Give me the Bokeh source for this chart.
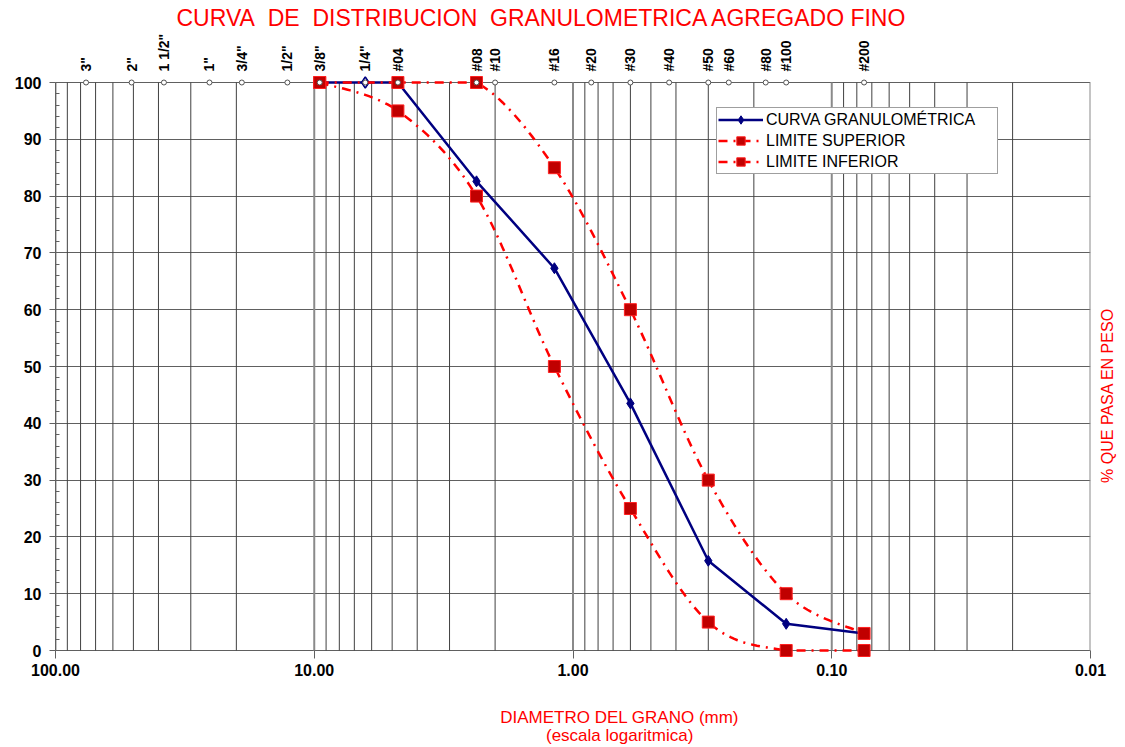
import numpy as np
from bokeh.plotting import figure
from bokeh.models import (Range1d, FixedTicker, Legend, LegendItem, LogAxis, Label,
                          NumeralTickFormatter)
from bokeh.embed import file_html
from bokeh.resources import INLINE

# ---------------- data ----------------
sieve_labels = ['3"', '2"', '1 1/2"', '1"', '3/4"', '1/2"', '3/8"', '1/4"', '#04', '#08', '#10',
                '#16', '#20', '#30', '#40', '#50', '#60', '#80', '#100', '#200']
sieve_mm = [76.2, 50.8, 38.1, 25.4, 19.05, 12.7, 9.525, 6.35, 4.75, 2.36, 2.0,
            1.18, 0.85, 0.6, 0.425, 0.3, 0.25, 0.18, 0.15, 0.075]

curva_x = [9.525, 6.35, 4.75, 2.36, 1.18, 0.6, 0.3, 0.15, 0.075]
curva_y = [100, 100, 100, 82.6, 67.3, 43.5, 15.8, 4.7, 3.0]

lim_x = [9.525, 4.75, 2.36, 1.18, 0.6, 0.3, 0.15, 0.075]
sup_y = [100, 100, 100, 85, 60, 30, 10, 3]
inf_y = [100, 95, 80, 50, 25, 5, 0, 0]

x_ticks = [100, 10, 1, 0.1, 0.01]
y_ticks = list(range(0, 101, 10))

title_text = "CURVA\u00a0 DE\u00a0 DISTRIBUCION\u00a0 GRANULOMETRICA AGREGADO FINO"
x_title_1 = "DIAMETRO DEL GRANO (mm)"
x_title_2 = "(escala logaritmica)"
y_title = "% QUE PASA EN PESO"

FONT = "Liberation Sans"
RED = "#FF0000"
NAVY = "#000080"


def smooth(xs, ys, n=24):
    """Excel-like smoothed line (Bezier / Catmull-Rom in log-x space), clipped to plot area."""
    P = np.column_stack([np.log10(xs), np.asarray(ys, float)])
    P = np.vstack([P[0], P, P[-1]])
    pts = []
    for i in range(1, len(P) - 2):
        p0, p1, p2, p3 = P[i - 1], P[i], P[i + 1], P[i + 2]
        b1 = p1 + (p2 - p0) / 6.0
        b2 = p2 - (p3 - p1) / 6.0
        for t in np.linspace(0, 1, n, endpoint=False):
            pts.append((1 - t) ** 3 * p1 + 3 * (1 - t) ** 2 * t * b1
                       + 3 * (1 - t) * t ** 2 * b2 + t ** 3 * p2)
    pts.append(P[-2])
    pts = np.array(pts)
    return 10 ** pts[:, 0], np.clip(pts[:, 1], 0, 100)


pad = 8 / 5.68
p = figure(frame_width=1035, frame_height=584,
           min_border_left=55, min_border_right=30, min_border_top=74, min_border_bottom=89,
           x_axis_type="log", x_range=Range1d(100, 0.01), y_range=Range1d(-pad, 100 + pad),
           output_backend="svg", toolbar_location=None)
p.outline_line_color = None
p.background_fill_color = "white"
p.border_fill_color = "white"

# title
p.title.text = title_text
p.title.align = "left"
p.title.offset = 121
p.title.standoff = 0
p.title.text_font = FONT
p.title.text_font_size = "23px"
p.title.text_font_style = "normal"
p.title.text_color = RED

# grid
p.xgrid.visible = False
p.ygrid.ticker = FixedTicker(ticks=y_ticks)
p.ygrid.grid_line_color = "#606060"
p.ygrid.grid_line_width = 1

minor_x = [m * 10.0 ** k for k in range(-2, 2) for m in range(2, 10)]
p.segment(x0=minor_x, y0=0, x1=minor_x, y1=100, line_color="#404040", line_width=1)
p.segment(x0=x_ticks, y0=0, x1=x_ticks, y1=100, line_color="#8a8a8a", line_width=2)

# left axis
yax = p.yaxis[0]
yax.ticker = FixedTicker(ticks=y_ticks, minor_ticks=list(range(0, 101, 2)))
yax.bounds = (0, 100)
yax.axis_line_color = "#606060"
yax.major_tick_out = 6
yax.major_tick_in = 0
yax.minor_tick_in = 4
yax.minor_tick_out = 0
yax.major_tick_line_color = "#606060"
yax.minor_tick_line_color = "#606060"
yax.major_label_text_font = FONT
yax.major_label_text_font_style = "bold"
yax.major_label_text_font_size = "16px"
yax.major_label_text_color = "black"
yax.major_label_standoff = 8

# bottom axis
xax = p.xaxis[0]
xax.ticker = FixedTicker(ticks=x_ticks, minor_ticks=[])
xax.formatter = NumeralTickFormatter(format="0.00")
xax.axis_line_color = None
xax.major_tick_in = 8
xax.major_tick_out = 0
xax.major_tick_line_color = "#606060"
xax.major_label_text_font = FONT
xax.major_label_text_font_style = "bold"
xax.major_label_text_font_size = "16px"
xax.major_label_text_color = "black"
xax.major_label_standoff = 5

# axis titles (side-panel labels are not clipped to the frame)
p.add_layout(Label(x=0.66, y=-11.8, text=x_title_1, text_align="center", text_baseline="middle",
                   text_font=FONT, text_font_size="17px", text_color=RED), "below")
p.add_layout(Label(x=0.66, y=-15.0, text=x_title_2, text_align="center", text_baseline="middle",
                   text_font=FONT, text_font_size="17px", text_color=RED), "below")
p.add_layout(Label(x=17, y=44.9, x_units="screen", text=y_title, angle=np.pi / 2,
                   text_align="center", text_baseline="middle",
                   text_font=FONT, text_font_size="16px", text_color=RED), "right")

# top axis with sieve names
st = LogAxis(ticker=FixedTicker(ticks=sieve_mm, minor_ticks=[]),
             major_label_overrides={m: s for m, s in zip(sieve_mm, sieve_labels)},
             major_label_orientation="vertical", axis_line_color=None,
             major_tick_line_color=None, minor_tick_line_color=None,
             major_tick_in=0, major_tick_out=0, major_label_standoff=3,
             major_label_text_font=FONT, major_label_text_font_style="bold",
             major_label_text_font_size="14px", major_label_text_color="black")
p.add_layout(st, "above")

# curves
curva_line = p.line(curva_x, curva_y, line_color=NAVY, line_width=2.5)
curva_pts = p.scatter(curva_x, curva_y, marker="diamond", size=11, fill_color=NAVY, line_color=NAVY)
p.scatter([curva_x[1]], [curva_y[1]], marker="diamond", size=11, fill_color="white",
          line_color=NAVY, line_width=1.5)

sx, sy = smooth(lim_x, sup_y)
ix, iy = smooth(lim_x, inf_y)
sup_line = p.line(sx, sy, line_color=RED, line_width=2.5, line_dash="9 6 2 6")
inf_line = p.line(ix, iy, line_color=RED, line_width=2.5, line_dash="9 6 2 6")
sup_pts = p.scatter(lim_x, sup_y, marker="square", size=12, fill_color="#C00000", line_color="#FF2020")
inf_pts = p.scatter(lim_x, inf_y, marker="square", size=12, fill_color="#C00000", line_color="#FF2020")

# sieve markers on the top line
p.scatter(sieve_mm, [100] * len(sieve_mm), marker="circle", size=5, fill_color="white",
          line_color="#505050", line_width=1)

# legend
legend = Legend(items=[
    LegendItem(label="CURVA GRANULOMÉTRICA", renderers=[curva_line, curva_pts]),
    LegendItem(label="LIMITE SUPERIOR", renderers=[sup_line, sup_pts]),
    LegendItem(label="LIMITE INFERIOR", renderers=[inf_line, inf_pts]),
], location=(661, 484))
legend.margin = 0
legend.padding = 1
legend.spacing = 0
legend.label_height = 21
legend.glyph_height = 21
legend.glyph_width = 45
legend.label_standoff = 3
legend.label_width = 230
legend.label_text_font = FONT
legend.label_text_font_size = "16px"
legend.label_text_color = "black"
legend.border_line_color = "#404040"
legend.border_line_width = 1
legend.background_fill_color = "white"
legend.background_fill_alpha = 1
p.add_layout(legend)

open("out.html", "w").write(file_html(p, INLINE))
